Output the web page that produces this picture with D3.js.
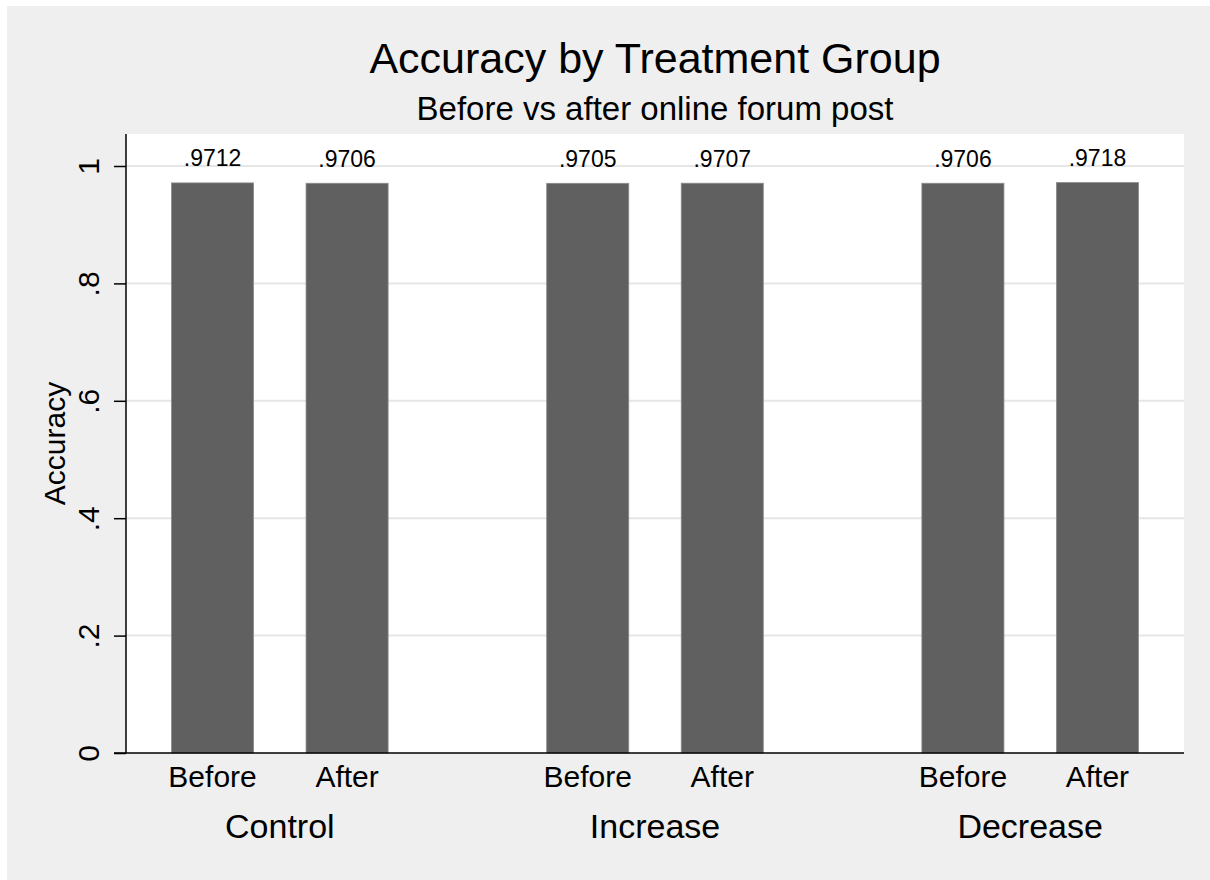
<!DOCTYPE html>
<html>
<head>
<meta charset="utf-8">
<script src="https://cdn.jsdelivr.net/npm/d3@7"></script>
<style>
  html, body { margin: 0; padding: 0; background: #ffffff; }
  svg { display: block; }
  text { font-family: "Liberation Sans", Arial, Helvetica, sans-serif; fill: #000; }
</style>
</head>
<body>
<script>
// ---- data ----
const groups = ["Control", "Increase", "Decrease"];
const periods = ["Before", "After"];
const beforeValues = [0.9712, 0.9705, 0.9706];
const afterValues = [0.9706, 0.9707, 0.9718];
const valueLabels = [[".9712", ".9706"], [".9705", ".9707"], [".9706", ".9718"]];
const yTicks = [0, 0.2, 0.4, 0.6, 0.8, 1];
const yTickLabels = ["0", ".2", ".4", ".6", ".8", "1"];
const titleText = "Accuracy by Treatment Group";
const subtitleText = "Before vs after online forum post";
const yTitle = "Accuracy";

const W = 1210, H = 880;
const plot = { left: 126, right: 1184, top: 134, bottom: 753 };

const svg = d3.select("body").append("svg").attr("width", W).attr("height", H);

// background
svg.append("rect").attr("x", 7).attr("y", 6).attr("width", W - 7).attr("height", H - 6).attr("fill", "#efefef");
svg.append("rect").attr("x", plot.left).attr("y", plot.top)
  .attr("width", plot.right - plot.left).attr("height", plot.bottom - plot.top).attr("fill", "#ffffff");

// scales
const y = d3.scaleLinear().domain([0, 1]).range([plot.bottom, 166]);
const gx = d3.scalePoint().domain(groups).range([plot.left, plot.right]).padding(0.41);
const halfSpan = 108.3;
const bx = d3.scaleBand().domain(periods).range([-halfSpan, halfSpan]).paddingInner(0.39).paddingOuter(0);

// gridlines
svg.append("g").selectAll("line").data(yTicks.filter(d => d > 0)).join("line")
  .attr("x1", plot.left).attr("x2", plot.right)
  .attr("y1", d => y(d)).attr("y2", d => y(d))
  .attr("stroke", "#e6e6e6").attr("stroke-width", 2);

// bars
const rows = [];
groups.forEach((g, i) => {
  rows.push({ g, p: "Before", v: beforeValues[i], label: valueLabels[i][0] });
  rows.push({ g, p: "After", v: afterValues[i], label: valueLabels[i][1] });
});

svg.append("g").selectAll("rect").data(rows).join("rect")
  .attr("x", d => gx(d.g) + bx(d.p))
  .attr("width", bx.bandwidth())
  .attr("y", d => y(d.v))
  .attr("height", d => y(0) - y(d.v))
  .attr("fill", "#606060")
  .attr("stroke", "#8c8c8c").attr("stroke-width", 0.8);

// value labels
svg.append("g").selectAll("text").data(rows).join("text")
  .attr("x", d => gx(d.g) + bx(d.p) + bx.bandwidth() / 2)
  .attr("y", d => y(d.v) - 16.5)
  .attr("text-anchor", "middle")
  .attr("font-size", 23)
  .text(d => d.label);

// y axis
const yAxis = d3.axisLeft(y).tickValues(yTicks).tickFormat((d, i) => yTickLabels[i]).tickSize(12).tickPadding(0);
const ya = svg.append("g").attr("transform", `translate(${plot.left},0)`).call(yAxis);
ya.select(".domain").remove();
ya.selectAll(".tick line").attr("stroke", "#000").attr("stroke-width", 1.5);
ya.selectAll(".tick text").remove();
ya.selectAll(".tick").append("text")
  .attr("transform", "translate(-27,0) rotate(-90)")
  .attr("text-anchor", "middle")
  .attr("font-size", 30)
  .attr("fill", "#000")
  .text((d, i) => yTickLabels[i]);

svg.append("line").attr("x1", plot.left).attr("x2", plot.left)
  .attr("y1", plot.top).attr("y2", plot.bottom)
  .attr("stroke", "#000").attr("stroke-width", 1.5);
svg.append("line").attr("x1", plot.left - 12).attr("x2", plot.right)
  .attr("y1", plot.bottom).attr("y2", plot.bottom)
  .attr("stroke", "#000").attr("stroke-width", 1.5);

// y title
svg.append("text")
  .attr("transform", `translate(65,${(plot.top + plot.bottom) / 2}) rotate(-90)`)
  .attr("text-anchor", "middle")
  .attr("font-size", 30)
  .text(yTitle);

// x labels: periods
svg.append("g").selectAll("text").data(rows).join("text")
  .attr("x", d => gx(d.g) + bx(d.p) + bx.bandwidth() / 2)
  .attr("y", 787)
  .attr("text-anchor", "middle")
  .attr("font-size", 30)
  .text(d => d.p);

// x labels: groups
svg.append("g").selectAll("text").data(groups).join("text")
  .attr("x", d => gx(d))
  .attr("y", 838)
  .attr("text-anchor", "middle")
  .attr("font-size", 34)
  .text(d => d);

// titles
svg.append("text").attr("x", (plot.left + plot.right) / 2).attr("y", 73)
  .attr("text-anchor", "middle").attr("font-size", 43).text(titleText);
svg.append("text").attr("x", (plot.left + plot.right) / 2).attr("y", 120)
  .attr("text-anchor", "middle").attr("font-size", 33).text(subtitleText);
</script>
</body>
</html>
